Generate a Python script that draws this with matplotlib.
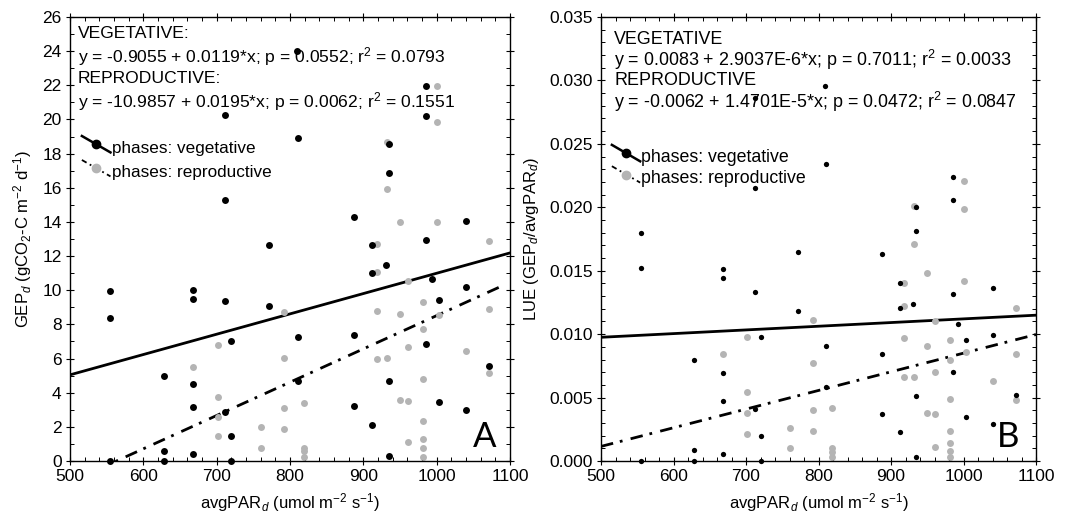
import numpy as np
import matplotlib
matplotlib.use("Agg")
import matplotlib.pyplot as plt
from matplotlib.ticker import MultipleLocator, FormatStrFormatter

plt.rcParams['font.family'] = ['Liberation Sans', 'DejaVu Sans']
plt.rcParams['mathtext.fontset'] = 'custom'
plt.rcParams['mathtext.rm'] = 'Liberation Sans'
plt.rcParams['mathtext.it'] = 'Liberation Sans:italic'

# vegetative phase (black points): avgPAR, GEP, LUE
veg_par = [555, 555, 555, 628, 628, 628, 668, 668, 668, 668, 668,
           712, 712, 712, 712, 720, 720, 720, 772, 772,
           809, 811, 811, 811, 887, 887, 887, 912, 912, 912,
           931, 935, 935, 935, 935, 986, 986, 986, 985, 993,
           1003, 1003, 1040, 1040, 1040, 1072]
veg_gep = [9.98, 8.36, 0.0, 4.96, 0.57, 0.0, 10.0, 9.49, 4.53, 3.14, 0.41,
           20.24, 15.28, 9.39, 2.89, 7.03, 1.46, 0.0, 12.65, 9.06,
           24.0, 18.9, 7.29, 4.67, 14.3, 7.38, 3.24, 12.66, 10.98, 2.11,
           11.46, 18.56, 16.86, 4.71, 0.31, 21.95, 20.2, 12.94, 6.86, 10.64,
           9.43, 3.46, 14.07, 10.21, 2.99, 5.55]
veg_lue = [0.0180, 0.0152, 0.0, 0.00795, 0.0009, 0.0, 0.0151, 0.0144, 0.0069, 0.0047, 0.00056,
           0.0286, 0.0215, 0.0133, 0.0041, 0.0098, 0.0020, 0.0, 0.0165, 0.0118,
           0.0296, 0.0234, 0.0091, 0.0058, 0.0163, 0.0084, 0.0037, 0.0140, 0.0121, 0.0023,
           0.0124, 0.0200, 0.0181, 0.0051, 0.00032, 0.0224, 0.0206, 0.0132, 0.0070, 0.0108,
           0.0095, 0.0035, 0.0136, 0.0099, 0.0029, 0.0052]

# reproductive phase (grey points)
rep_par = [668, 702, 702, 702, 702, 760, 760, 792, 792, 792, 792,
           819, 819, 819, 819, 918, 918, 918, 918, 932, 932, 932,
           950, 950, 950, 961, 961, 961, 961, 982, 982, 982, 982, 982, 982, 982,
           1000, 1000, 1000, 1003, 1040, 1072, 1072, 1072]
rep_gep = [5.49, 6.78, 3.75, 2.6, 1.46, 1.99, 0.78, 8.71, 6.02, 3.11, 1.88,
           3.42, 0.78, 0.59, 0.23, 12.7, 11.09, 8.79, 6.0, 18.68, 15.9, 6.02,
           13.99, 8.59, 3.59, 10.53, 6.68, 3.5, 1.09, 9.3, 7.75, 4.79, 2.34, 1.31, 0.78, 0.23,
           21.95, 19.85, 13.99, 8.54, 6.43, 12.88, 8.93, 5.14]
rep_lue = [0.0084, 0.0098, 0.0054, 0.0038, 0.0021, 0.0026, 0.0010, 0.0111, 0.0077, 0.0040, 0.0024,
           0.0042, 0.0010, 0.0007, 0.0003, 0.0140, 0.0122, 0.0097, 0.0066, 0.0201, 0.0171, 0.0066,
           0.0148, 0.0091, 0.0038, 0.0110, 0.0070, 0.0037, 0.0011, 0.0095, 0.0080, 0.0049, 0.0024,
           0.0014, 0.0008, 0.0003, 0.0221, 0.0199, 0.0142, 0.0086, 0.0063, 0.0121, 0.0084, 0.0048]

# regression coefficients (intercept, slope) as printed on the chart
gep_veg_fit = (-0.9055, 0.0119)
gep_rep_fit = (-10.9857, 0.0195)
lue_veg_fit = (0.0083, 2.9037e-6)
lue_rep_fit = (-0.0062, 1.4701e-5)

gep_text = ["VEGETATIVE:",
            "y = -0.9055 + 0.0119*x; p = 0.0552; r$^2$ = 0.0793",
            "REPRODUCTIVE:",
            "y = -10.9857 + 0.0195*x; p = 0.0062; r$^2$ = 0.1551"]
lue_text = ["VEGETATIVE",
            "y = 0.0083 + 2.9037E-6*x; p = 0.7011; r$^2$ = 0.0033",
            "REPRODUCTIVE",
            "y = -0.0062 + 1.4701E-5*x; p = 0.0472; r$^2$ = 0.0847"]

GREY = '#b4b4b4'
DASHDOT = (4.5, 2.5, 1.0, 3.0)

fig = plt.figure(figsize=(10.7, 5.19), dpi=100)
axA = fig.add_axes([70/1070, 58/519, 440/1070, 444/519])
axB = fig.add_axes([601/1070, 58/519, 435/1070, 444/519])


def style_axis(ax):
    ax.set_xlim(500, 1100)
    ax.xaxis.set_major_locator(MultipleLocator(100))
    ax.xaxis.set_minor_locator(MultipleLocator(20))
    ax.tick_params(which='major', direction='inout', length=6, width=0.8,
                   top=True, right=True, labelsize=12.5, pad=3)
    ax.tick_params(which='minor', direction='in', length=3, width=0.7,
                   top=True, right=True)
    for s in ax.spines.values():
        s.set_linewidth(1.0)
    ax.set_xlabel("avgPAR$_d$ (umol m$^{-2}$ s$^{-1}$)", fontsize=12, labelpad=5)


def draw_legend(ax, x0, y0, dy, fs):
    # diagonal legend glyphs as drawn by the original program
    ax.plot([x0, x0 + 0.065], [y0 + 0.02, y0 - 0.017], color='black', lw=1.8,
            transform=ax.transAxes, clip_on=False)
    ax.plot([x0 + 0.032], [y0 + 0.001], 'o', color='black', ms=6,
            transform=ax.transAxes)
    ax.text(x0 + 0.068, y0 - 0.008, "phases: vegetative", transform=ax.transAxes,
            fontsize=fs, va='center')
    y1 = y0 - dy
    ax.plot([x0, x0 + 0.065], [y1 + 0.02, y1 - 0.017], color='black', lw=1.3,
            dashes=(3, 2, 1, 2), transform=ax.transAxes, clip_on=False)
    ax.plot([x0 + 0.032], [y1 + 0.001], 'o', color=GREY, ms=6,
            transform=ax.transAxes)
    ax.text(x0 + 0.068, y1 - 0.008, "phases: reproductive", transform=ax.transAxes,
            fontsize=fs, va='center')


# ---- panel A ----
style_axis(axA)
axA.set_ylim(0, 26)
axA.yaxis.set_major_locator(MultipleLocator(2))
axA.yaxis.set_minor_locator(MultipleLocator(1))
axA.set_ylabel("GEP$_d$ (gCO$_2$-C m$^{-2}$ d$^{-1}$)", fontsize=12, labelpad=6)

xs = np.array([500, 1100])
axA.plot(xs, gep_veg_fit[0] + gep_veg_fit[1] * xs, color='black', lw=2.0)
xr = np.array([500, 1090])
axA.plot(xr, gep_rep_fit[0] + gep_rep_fit[1] * xr, color='black', lw=2.0,
         dashes=DASHDOT)
axA.plot(rep_par, rep_gep, 'o', color=GREY, ms=5, mec='none', clip_on=False)
axA.plot(veg_par, veg_gep, 'o', color='black', ms=5, mec='none', clip_on=False)

for i, line in enumerate(gep_text):
    axA.text(0.018, 0.963 - i * 0.051, line, transform=axA.transAxes,
             fontsize=12.6, va='center')
draw_legend(axA, 0.027, 0.712, 0.054, 12.3)
axA.text(0.943, 0.053, "A", transform=axA.transAxes, fontsize=25,
         ha='center', va='center', family='Lato')

# ---- panel B ----
style_axis(axB)
axB.set_ylim(0, 0.035)
axB.yaxis.set_major_locator(MultipleLocator(0.005))
axB.yaxis.set_minor_locator(MultipleLocator(0.001))
axB.yaxis.set_major_formatter(FormatStrFormatter('%.3f'))
axB.set_ylabel("LUE (GEP$_d$/avgPAR$_d$)", fontsize=12, labelpad=6)

axB.plot(xs, lue_veg_fit[0] + lue_veg_fit[1] * xs, color='black', lw=2.0)
axB.plot(xs, lue_rep_fit[0] + lue_rep_fit[1] * xs, color='black', lw=2.0,
         dashes=DASHDOT)
axB.plot(rep_par, rep_lue, 'o', color=GREY, ms=5, mec='none', clip_on=False)
axB.plot(veg_par, veg_lue, 'o', color='black', ms=3.8, mec='none', clip_on=False)

for i, line in enumerate(lue_text):
    axB.text(0.03, 0.95 - i * 0.047, line, transform=axB.transAxes,
             fontsize=12.9, va='center')
draw_legend(axB, 0.025, 0.692, 0.048, 12.8)
axB.text(0.935, 0.053, "B", transform=axB.transAxes, fontsize=25,
         ha='center', va='center', family='Lato')

fig.savefig("out.png", dpi=100)
